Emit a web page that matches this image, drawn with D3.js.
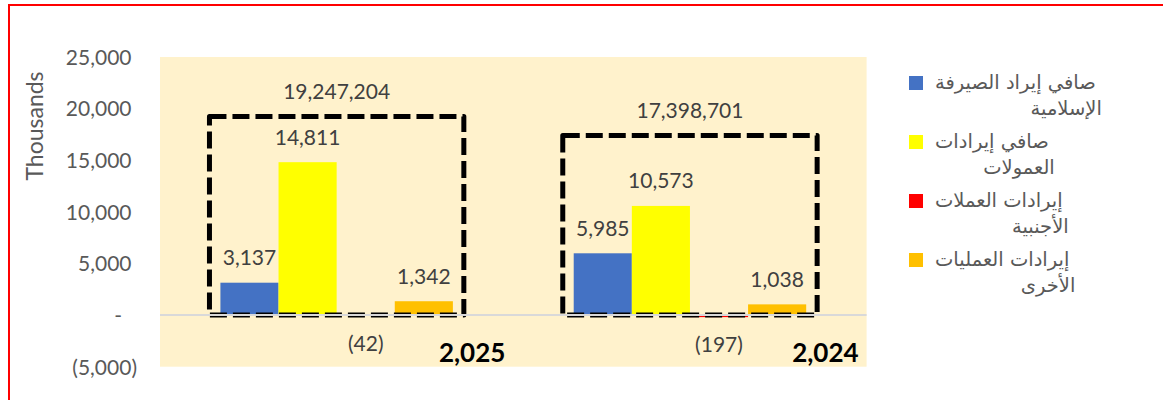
<!DOCTYPE html>
<meta charset="utf-8">
<style>

body {
  margin: 0;
  background: #fff;
}

text {
  font-family: Lato, "Open Sans", sans-serif;
  fill: #404040;
}

.axis text {
  fill: #595959;
  font-size: 21px;
}

.legend text {
  font-family: "DejaVu Sans", sans-serif;
  fill: #595959;
  font-size: 19.5px;
}

</style>
<body>
<script src="https://cdnjs.cloudflare.com/ajax/libs/d3/7.8.5/d3.min.js"></script>
<script>

var years = [2025, 2024],
    seriesNames = [
      "صافي إيراد الصيرفة الإسلامية",
      "صافي إيرادات العمولات",
      "إيرادات العملات الأجنبية",
      "إيرادات العمليات الأخرى"
    ],
    islamicBanking = [3137, 5985],
    commissions = [14811, 10573],
    foreignCurrency = [-42, -197],
    otherOperations = [1342, 1038],
    totals = [19247204, 17398701],
    yTicks = [-5000, 0, 5000, 10000, 15000, 20000, 25000],
    colors = ["#4472C4", "#FFFF00", "#FF0000", "#FFC000"];

var series = [islamicBanking, commissions, foreignCurrency, otherOperations];

var width = 1163,
    height = 400,
    plot = {left: 160, right: 866.6, top: 57, bottom: 366.7};

var svg = d3.select("body").append("svg")
    .attr("width", width)
    .attr("height", height);

// outer frame, runs off the right and bottom edges
svg.append("rect")
    .attr("x", 9)
    .attr("y", 5)
    .attr("width", 1300)
    .attr("height", 600)
    .attr("fill", "none")
    .attr("stroke", "#FF0000")
    .attr("stroke-width", 2);

var x0 = d3.scaleBand()
    .domain(years)
    .range([plot.left, plot.right]);

var x1 = d3.scaleBand()
    .domain(d3.range(series.length))
    .range([0, x0.bandwidth() * 0.658]);

var boxWidth = x0.bandwidth() * 0.72;

var y = d3.scaleLinear()
    .domain([-5000, 25000])
    .range([plot.bottom, plot.top]);

var fmt = d3.format(",");

function accounting(v) {
  if (v === 0) return "-";
  return v < 0 ? "(" + fmt(-v) + ")" : fmt(v);
}

svg.append("rect")
    .attr("x", plot.left)
    .attr("y", plot.top)
    .attr("width", plot.right - plot.left)
    .attr("height", plot.bottom - plot.top)
    .attr("fill", "#FFF2CC");

var yAxis = svg.append("g")
    .attr("class", "axis")
    .attr("transform", "translate(" + plot.left + ",0)")
    .call(d3.axisLeft(y)
      .tickValues(yTicks)
      .tickFormat(accounting)
      .tickSize(0)
      .tickPadding(23));

yAxis.select(".domain").remove();
yAxis.selectAll("text")
    .attr("font-family", null)
    .attr("font-size", null)
    .attr("dy", ".35em")
    .attr("dx", function(d) { return d > 0 ? -5.5 : d === 0 ? -15 : 0; });

svg.append("text")
    .attr("class", "axis")
    .attr("transform", "translate(35,126)rotate(-90)")
    .attr("text-anchor", "middle")
    .attr("dy", ".35em")
    .style("fill", "#595959")
    .style("font-size", "23px")
    .text("Thousands");

var groups = svg.selectAll(".year")
    .data(years)
  .enter().append("g")
    .attr("class", "year")
    .attr("transform", function(d) {
      return "translate(" + (x0(d) + (x0.bandwidth() - x1.range()[1]) / 2) + ",0)";
    });

groups.selectAll("rect")
    .data(function(d, i) { return series.map(function(s) { return s[i]; }); })
  .enter().append("rect")
    .attr("x", function(d, j) { return x1(j); })
    .attr("y", function(d) { return y(Math.max(0, d)); })
    .attr("width", x1.bandwidth())
    .attr("height", function(d) { return Math.abs(y(d) - y(0)); })
    .attr("fill", function(d, j) { return colors[j]; });

groups.selectAll(".label")
    .data(function(d, i) { return series.map(function(s) { return s[i]; }); })
  .enter().append("text")
    .attr("class", "label")
    .attr("x", function(d, j) { return x1(j) + x1.bandwidth() / 2; })
    .attr("y", function(d) { return d < 0 ? y(d) + 28 : y(d) - 25; })
    .attr("dy", ".35em")
    .attr("text-anchor", "middle")
    .style("font-size", "21px")
    .text(accounting);

// dashed box for each year's total
svg.selectAll(".total")
    .data(years)
  .enter().append("rect")
    .attr("class", "total")
    .attr("x", function(d) { return x0(d) + (x0.bandwidth() - boxWidth) / 2; })
    .attr("y", function(d, i) { return y(totals[i] / 1000); })
    .attr("width", boxWidth)
    .attr("height", function(d, i) { return y(0) - y(totals[i] / 1000); })
    .attr("fill", "none")
    .attr("stroke", "#000")
    .attr("stroke-width", 5)
    .attr("stroke-dasharray", "17,6")
    .attr("stroke-linejoin", "round");

svg.selectAll(".total-label")
    .data(years)
  .enter().append("text")
    .attr("class", "total-label")
    .attr("x", function(d) { return x0(d) + x0.bandwidth() / 2; })
    .attr("y", function(d, i) { return y(totals[i] / 1000) - 25; })
    .attr("dy", ".35em")
    .attr("text-anchor", "middle")
    .style("font-size", "21px")
    .text(function(d, i) { return fmt(totals[i]); });

svg.append("line")
    .attr("x1", plot.left)
    .attr("x2", plot.right)
    .attr("y1", y(0))
    .attr("y2", y(0))
    .attr("stroke", "#D9D9D9")
    .attr("stroke-width", 2);

svg.selectAll(".category")
    .data(years)
  .enter().append("text")
    .attr("class", "category")
    .attr("x", function(d) { return x0(d) + x0.bandwidth() - 8; })
    .attr("y", 362)
    .attr("text-anchor", "end")
    .style("fill", "#000")
    .style("font-weight", "bold")
    .style("font-size", "26px")
    .text(fmt);

var legend = svg.append("g")
    .attr("class", "legend");

var entries = legend.selectAll("g")
    .data(seriesNames)
  .enter().append("g")
    .attr("transform", function(d, i) { return "translate(909," + (76 + i * 59) + ")"; });

entries.append("rect")
    .attr("width", 14)
    .attr("height", 14)
    .attr("fill", function(d, i) { return colors[i]; });

entries.each(function(d) {
  var g = d3.select(this),
      cut = d.lastIndexOf(" ");

  var first = g.append("text")
      .attr("x", 26)
      .attr("y", 6)
      .attr("dy", ".35em")
      .text(d.slice(0, cut));

  var w = first.node().getComputedTextLength();

  g.append("text")
      .attr("x", 26 + w + 6)
      .attr("y", 32)
      .attr("dy", ".35em")
      .attr("text-anchor", "end")
      .text(d.slice(cut + 1));
});

</script>
